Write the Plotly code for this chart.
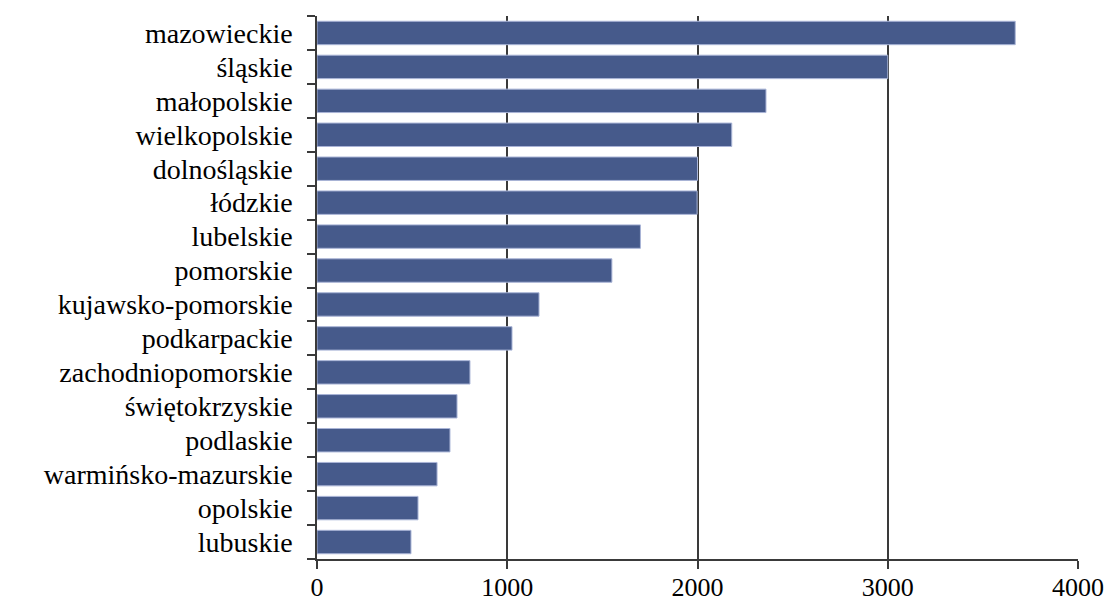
import plotly.graph_objects as go

regions = ["mazowieckie", "śląskie", "małopolskie", "wielkopolskie", "dolnośląskie",
           "łódzkie", "lubelskie", "pomorskie", "kujawsko-pomorskie", "podkarpackie",
           "zachodniopomorskie", "świętokrzyskie", "podlaskie", "warmińsko-mazurskie",
           "opolskie", "lubuskie"]
values = [3670, 3000, 2360, 2180, 2000, 1998, 1700, 1550, 1167, 1025,
          804, 736, 699, 631, 531, 494]
x_ticks = [0, 1000, 2000, 3000, 4000]

FONT = "Liberation Serif"
FSIZE = 28

fig = go.Figure(go.Bar(
    x=values, y=regions, orientation="h",
    marker=dict(color="#465a8b", line=dict(color="#a9b4d6", width=1)),
))

# page body has an 8px margin: figure is shrunk by 8px and margins shifted
fig.update_layout(
    width=1108, height=593,
    margin=dict(l=309, r=38, t=8, b=42),
    paper_bgcolor="white", plot_bgcolor="white",
    bargap=0.31,
    showlegend=False,
    font=dict(family=FONT, size=FSIZE, color="black"),
)
fig.update_xaxes(
    range=[0, 4000], tickvals=x_ticks, ticktext=[str(v) for v in x_ticks],
    automargin=False,
    showgrid=True, gridcolor="#3a3a3a", gridwidth=1.5,
    showline=True, linecolor="#3a3a3a", linewidth=1.5,
    ticks="outside", ticklen=8, tickcolor="#3a3a3a", tickwidth=1.5,
    zeroline=False,
    ticklabelstandoff=-4,
    tickfont=dict(family=FONT, size=26, color="black"),
)
fig.update_yaxes(
    autorange="reversed",
    tickmode="array", tickvals=regions, ticktext=regions,
    automargin=False,
    showline=True, linecolor="#3a3a3a", linewidth=1.5,
    ticks="outside", ticklen=8, tickcolor="#3a3a3a", tickwidth=1.5,
    tickson="boundaries",
    showgrid=False,
    ticklabelstandoff=17,
    tickfont=dict(family=FONT, size=FSIZE, color="black"),
)

fig.write_html("out.html")
